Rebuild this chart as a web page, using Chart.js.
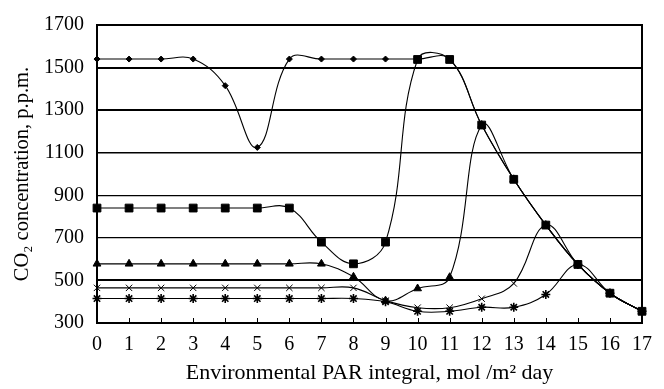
<!DOCTYPE html>
<html>
<head>
<meta charset="utf-8">
<script src="https://cdn.jsdelivr.net/npm/chart.js@4"></script>
<style>
	html, body { margin: 0; padding: 0; background: #fff; }
	#wrap { width: 664px; height: 389px; }
</style>
</head>
<body>
<div id="wrap"><canvas id="co2Chart"></canvas></div>
<script>
// PAR integral categories (x axis)
const parLabels = ["0", "1", "2", "3", "4", "5", "6", "7", "8", "9", "10", "11", "12", "13", "14", "15", "16", "17"];

// CO2 concentration series (p.p.m.)
const diamondSeries = [1540, 1540, 1540, 1540, 1415, 1125, 1540, 1540, 1540, 1540, 1540, 1540, 1230, 975, 760, 575, 440, 355];
const squareSeries = [840, 840, 840, 840, 840, 840, 840, 680, 578, 680, 1538, 1538, 1230, 975, 760, 575, 440, 355];
const triangleSeries = [578, 578, 578, 578, 578, 578, 578, 578, 517, 405, 462, 515, 1230, 975, 760, 575, 440, 355];
const crossSeries = [465, 465, 465, 465, 465, 465, 465, 465, 465, 405, 372, 372, 414, 486, 760, 575, 440, 355];
const starSeries = [415, 415, 415, 415, 415, 415, 415, 415, 415, 400, 355, 355, 374, 374, 434, 575, 440, 355];

// y axis ticks
const yMin = 300;
const yMax = 1700;
const yStep = 200;

const serif = "'Liberation Serif', 'Times New Roman', serif";

// frame on top/right + short inward ticks on the x axis
const framePlugin = {
	id: "frame",
	beforeDatasetsDraw(chart) {
		const { ctx, chartArea, scales } = chart;
		ctx.save();
		ctx.strokeStyle = "#000";
		ctx.lineWidth = 1;
		scales.x.ticks.forEach(function (t, i) {
			const px = Math.round(scales.x.getPixelForTick(i)) + 0.5;
			ctx.beginPath();
			ctx.moveTo(px, chartArea.bottom);
			ctx.lineTo(px, chartArea.bottom - 5);
			ctx.stroke();
		});
		ctx.lineWidth = 2;
		ctx.beginPath();
		ctx.moveTo(chartArea.left, chartArea.top);
		ctx.lineTo(chartArea.right, chartArea.top);
		ctx.lineTo(chartArea.right, chartArea.bottom);
		ctx.stroke();
		ctx.restore();
	},
};

function makeSet(data, style, radius, width) {
	return {
		data: data,
		borderColor: "#000",
		backgroundColor: "#000",
		borderWidth: 1.1,
		pointStyle: style,
		pointRadius: radius,
		pointBorderWidth: width,
		pointBackgroundColor: "#000",
		pointBorderColor: "#000",
		tension: 0.4,
		fill: false,
	};
}

document.addEventListener("DOMContentLoaded", function () {
	const ctx = document.getElementById("co2Chart");

	new Chart(ctx.getContext("2d"), {
		type: "line",
		data: {
			labels: parLabels,
			datasets: [
				makeSet(starSeries, "star", 4.5, 1.6),
				makeSet(crossSeries, "crossRot", 4.5, 1),
				makeSet(triangleSeries, "triangle", 4.5, 1),
				makeSet(diamondSeries, "rectRot", 3, 1),
				makeSet(squareSeries, "rect", 5.5, 1),
			],
		},
		options: {
			responsive: true,
			maintainAspectRatio: false,
			animation: false,
			layout: {
				padding: { top: 13, right: 22, left: 0, bottom: 0 },
			},
			plugins: {
				legend: { display: false },
				tooltip: { enabled: false },
			},
			scales: {
				x: {
					type: "category",
					offset: false,
					grid: { display: false, drawTicks: false },
					border: { display: true, color: "#000", width: 2 },
					ticks: {
						color: "#000",
						padding: 10,
						maxRotation: 0,
						autoSkip: false,
						font: { family: serif, size: 20 },
					},
					title: {
						display: true,
						text: "Environmental PAR integral, mol /m\u00B2 day",
						color: "#000",
						padding: { top: 0, bottom: 3 },
						font: { family: serif, size: 22 },
					},
					afterFit: function (scale) {
						scale.height = 66;
					},
				},
				y: {
					min: yMin,
					max: yMax,
					grid: {
						drawTicks: false,
						color: function (c) {
							const v = c.tick ? c.tick.value : null;
							return v === yMin || v === yMax ? "rgba(0,0,0,0)" : "#000";
						},
						lineWidth: function (c) {
							const v = c.tick ? c.tick.value : null;
							if (v === 700 || v === 900) return 1.2;
							if (v === 1100) return 1.5;
							return 2;
						},
					},
					border: { display: true, color: "#000", width: 2 },
					ticks: {
						stepSize: yStep,
						color: "#000",
						padding: 13,
						font: { family: serif, size: 20 },
						callback: function (value) {
							return String(value);
						},
					},
					title: {
						display: true,
						text: "CO\u2082 concentration, p.p.m.",
						color: "#000",
						padding: { top: 10, bottom: 0 },
						font: { family: serif, size: 20.5 },
					},
					afterFit: function (scale) {
						scale.width = 97;
					},
				},
			},
		},
		plugins: [framePlugin],
	});
});
</script>
</body>
</html>
